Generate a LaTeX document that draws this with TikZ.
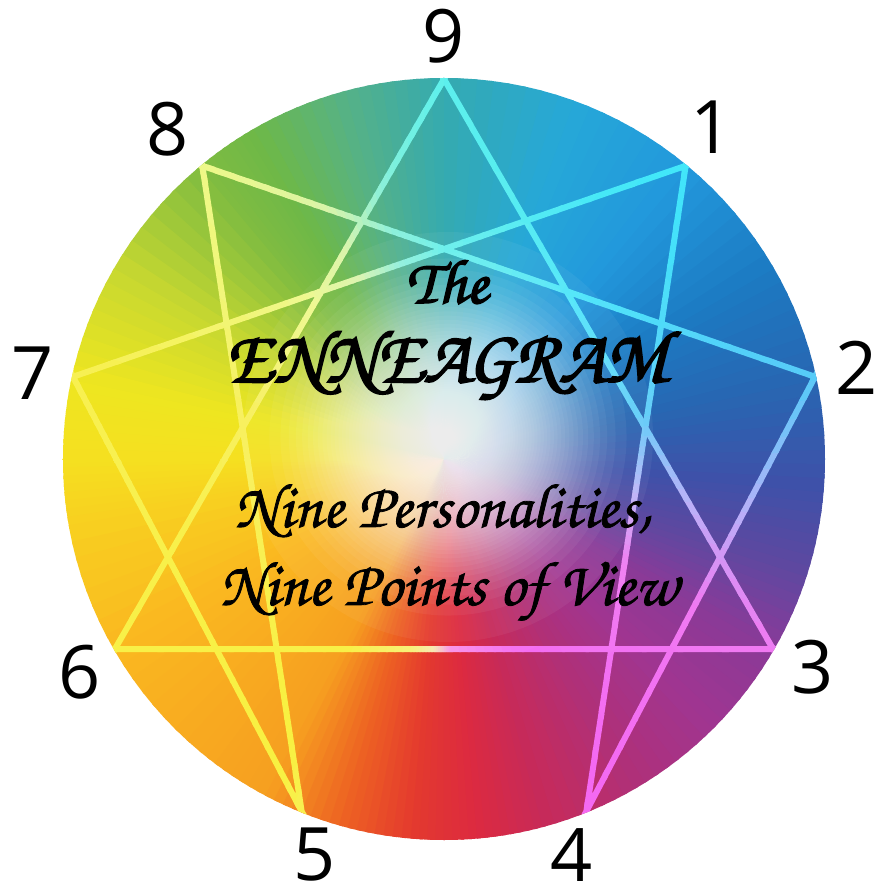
\documentclass[tikz,border=0pt]{standalone}
\usepackage[T1]{fontenc}
\usepackage{fontspec}
\usepackage{xcolor}
\usetikzlibrary{calc, math}
\newfontfamily\numfont{Open Sans}
\newcommand{\chancery}{\fontencoding{T1}\fontfamily{pzc}\fontseries{mb}\fontshape{it}\selectfont}
% heavier strokes for the calligraphic lines
\newcommand{\heavy}[2]{\special{pdf:literal direct 2 Tr #1 w}#2\special{pdf:literal direct 0 Tr}}

% colour wheel in thin wedges: #1 radius, #2 first colour, #3 angle/hex list
\newcommand{\wheelfill}[3]{%
  \foreach \a/\hx [remember=\a as \pa (initially -180), remember=\hx as \phx (initially #2)] in {#3}{
    \edef\tmp{\noexpand\definecolor{wcur}{HTML}{\hx}\noexpand\definecolor{wprev}{HTML}{\phx}}\tmp
    \foreach \k in {0,...,7}{
      \pgfmathsetmacro{\tA}{\pa+(\a-\pa)*\k/8}
      \pgfmathsetmacro{\tB}{\pa+(\a-\pa)*(\k+1)/8+0.6}
      \pgfmathsetmacro{\mix}{100*(\k+0.5)/8}
      \fill[wcur!\mix!wprev] (0,0) -- (\tA:#1) arc[start angle=\tA, end angle=\tB, radius=#1] -- cycle;
    }
  }
}

\tikzset{
  num/.style={font=\numfont\fontsize{74}{74}\selectfont, inner sep=0pt},
  title/.style={font=\chancery\fontsize{63}{63}\selectfont, text=black, anchor=base, inner sep=0pt},
  bigtitle/.style={title, font=\chancery\fontsize{75}{75}\selectfont},
}

\begin{document}
\begin{tikzpicture}[x=1bp, y=1bp]
\tikzmath{
\R=381;
\w=3;
}
\useasboundingbox (-444,-433) rectangle (440,459);
\fill[white] (-444,-433) rectangle (440,459);

\foreach \n/\t in {9/90, 1/50.5, 2/12.5, 3/-30, 4/-68, 5/-112, 6/-150, 7/167.5, 8/129.5}
  \coordinate (p\n) at (\t:380);
\coordinate (glow) at (4,22);

\foreach \a/\b in {9/3, 3/6, 6/9, 1/4, 4/2, 2/8, 8/5, 5/7, 7/1}{
  \coordinate (e\a\b) at ($(p\a)!-6bp!(p\b)$);
  \coordinate (f\a\b) at ($(p\b)!-6bp!(p\a)$);
}

\begin{scope}
\clip (0,0) circle (\R);
\wheelfill{390}{F5E020}{-180/F5E020, -170/F8D020, -150/FAB820, -130/F8A820, -118/F6A020, -106/EE6422, -95/E43A2E, -85/DC2A40, -75/C82A58, -60/B03078, -45/A03590, -30/8A3A98, -18/6048A0, -5/4050A8, 12/2866B2, 30/1C7AC2, 50/2298DC, 70/26A8D8, 90/35AAB0, 105/55B288, 120/6EB848, 130/80BC40, 150/C8D830, 168/EEE620, 180/F5E020}
\foreach \i in {0,...,59}
  \fill[white, opacity=0.05] (glow) circle ({205*(1-sqrt(\i/60))});

% the nine lines, painted through a clip of thin bars
\begin{scope}
\clip \foreach \a/\b in {9/3, 3/6, 6/9, 1/4, 4/2, 2/8, 8/5, 5/7, 7/1}{
  ($(e\a\b)!\w bp!90:(f\a\b)$) -- ($(f\a\b)!\w bp!-90:(e\a\b)$)
  -- ($(f\a\b)!\w bp!90:(e\a\b)$) -- ($(e\a\b)!\w bp!-90:(f\a\b)$) -- cycle};
\wheelfill{390}{F8F050}{-180/F8F050, -150/F8F048, -118/F8F040, -100/F8F070, -93/F8E8B0, -88/F890E8, -68/F468F2, -30/F07AF2, -10/B8B0F8, 12/58CAF8, 50/40E6FA, 90/5EF0EC, 103/88F0D8, 115/D8F4A8, 130/EEF888, 168/F8F050, 180/F8F050}
\foreach \i in {0,...,39}
  \fill[white, opacity=0.03] (glow) circle ({270*(1-sqrt(\i/40))});
\end{scope}
\end{scope}

\node[num] (n9) at (0,423) {9};
\node[num] (n1) at (268,332) {1};
\node[num] (n2) at (413,91) {2};
\node[num] (n3) at (369,-208) {3};
\node[num] (n4) at (128,-396) {4};
\node[num] (n5) at (-129,-396) {5};
\node[num] (n6) at (-364,-213) {6};
\node[num] (n7) at (-411,86) {7};
\node[num] (n8) at (-276,330) {8};

\node[title] (the) at (3,156) {\heavy{1.6}{The}};
\node[bigtitle] (enn) at (3,77) {\heavy{1.8}{ENNEAGRAM}};
\node[title] (sub1) at (-1,-68) {\heavy{0.8}{Nine Personalities,}};
\node[title] (sub2) at (5,-146) {\heavy{0.8}{Nine Points of View}};
\end{tikzpicture}
\end{document}
